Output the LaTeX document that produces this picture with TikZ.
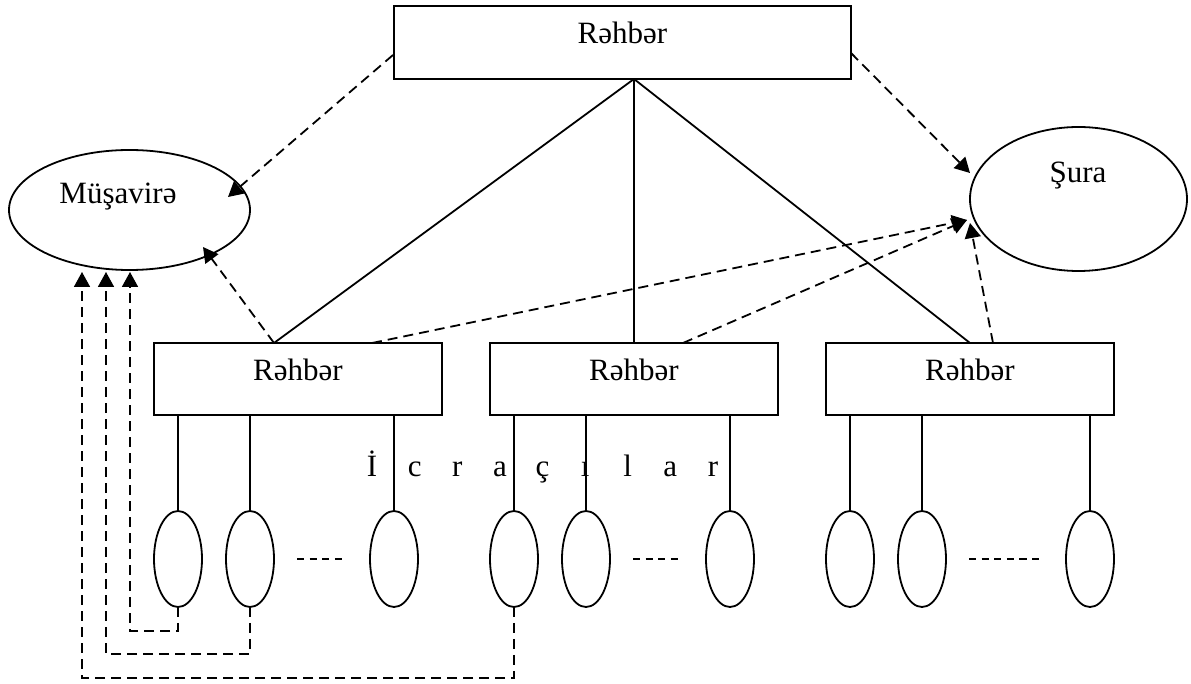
\documentclass[tikz,border=0pt]{standalone}
\usepackage{fontspec}
\setmainfont{Liberation Serif}
\usetikzlibrary{shapes.geometric,arrows.meta,calc}
\newcommand\icrletter[1]{\makebox[21.3pt]{#1}}
\begin{document}
\begin{tikzpicture}[x=0.5pt,y=-0.5pt,
  every node/.style={outer sep=0pt},
  font=\fontsize{15.5}{18}\selectfont,
  boxnode/.style={draw, line width=0.9pt, rectangle, inner xsep=0pt, inner ysep=0pt,
    text height=19pt, text depth=17pt, anchor=north west, minimum width=144pt},
  ovalnode/.style={draw, line width=0.9pt, ellipse, inner sep=0pt},
  worker/.style={ovalnode, minimum width=24pt, minimum height=48pt},
  solidline/.style={line width=0.9pt},
  dashline/.style={line width=0.9pt, dash pattern=on 5pt off 3pt},
  dotsline/.style={line width=0.9pt, dash pattern=on 3.6pt off 2.7pt},
  dasharrow/.style={dashline, -{Triangle[length=7.5pt,width=8pt]}},
]
\useasboundingbox (0,0) rectangle (1191,684);

% boxes
\node[boxnode, minimum width=228.5pt, text depth=17.5pt] (T) at (394,6) {Rəhbər};
\node[boxnode] (L) at (154,343) {Rəhbər};
\node[boxnode] (C) at (490,343) {Rəhbər};
\node[boxnode] (R) at (826,343) {Rəhbər};

% ellipses
\node[ovalnode, minimum width=120.5pt, minimum height=60pt] (M) at (129.5,210) {};
\node[anchor=base] (Mt) at (118,204) {Müşavirə};
\node[ovalnode, minimum width=108.5pt, minimum height=72pt] (S) at (1078.5,199) {};
\node[anchor=base] (St) at (1078,183) {Şura};

% workers
\node[worker] (L1) at (178,559) {};
\node[worker] (L2) at (250,559) {};
\node[worker] (L3) at (394,559) {};
\node[worker] (C1) at (514,559) {};
\node[worker] (C2) at (586,559) {};
\node[worker] (C3) at (730,559) {};
\node[worker] (R1) at (850,559) {};
\node[worker] (R2) at (922,559) {};
\node[worker] (R3) at (1090,559) {};

% label
\node[anchor=base] (ic) at (542.5,477) {\icrletter{İ}\icrletter{c}\icrletter{r}\icrletter{a}\icrletter{ç}\icrletter{ı}\icrletter{l}\icrletter{a}\icrletter{r}};

% coordinates
\coordinate (Tap) at (634,79);
\coordinate (Lap) at (274,343);
\coordinate (Tl) at (393,55);
\coordinate (Tr) at (851,53);
\coordinate (Mtip1) at (228,197);
\coordinate (Mtip2) at (203,247);
\coordinate (Stip0) at (970,173);
\coordinate (Stip1) at (967,220);
\coordinate (Stip2) at (970,223);
\coordinate (Ls) at (372,343);
\coordinate (Cs) at (683,343);
\coordinate (Rs) at (993,343);
\coordinate (m1) at (130,272);
\coordinate (m2) at (106,272);
\coordinate (m3) at (82,272);

% solid hierarchy
\draw[solidline] (Tap) -- (Lap);
\draw[solidline] (Tap) -- (C.north);
\draw[solidline] (Tap) -- (R.north);
\foreach \b/\w in {L/L1,L/L2,L/L3,C/C1,C/C2,C/C3,R/R1,R/R2,R/R3}
  \draw[solidline] (\b.south -| \w.north) -- (\w.north);

% ellipsis dashes
\draw[dotsline] (297,559) -- (347,559);
\draw[dotsline] (633,559) -- (683,559);
\draw[dotsline] (969,559) -- (1043,559);

% dashed arrows
\draw[dasharrow] (Tl) -- (Mtip1);
\draw[dasharrow] (Tr) -- (Stip0);
\draw[dasharrow] (Lap) -- (Mtip2);
\draw[dasharrow] (Ls) -- (Stip1);
\draw[dasharrow] (Cs) -- (Stip1);
\draw[dasharrow] (Rs) -- (Stip2);

% return paths
\draw[dasharrow] (L1.south) -- ++(0,24) -| (m1);
\draw[dasharrow] (L2.south) -- ++(0,47) -| (m2);
\draw[dasharrow] (C1.south) -- ++(0,71) -| (m3);
\end{tikzpicture}
\end{document}
